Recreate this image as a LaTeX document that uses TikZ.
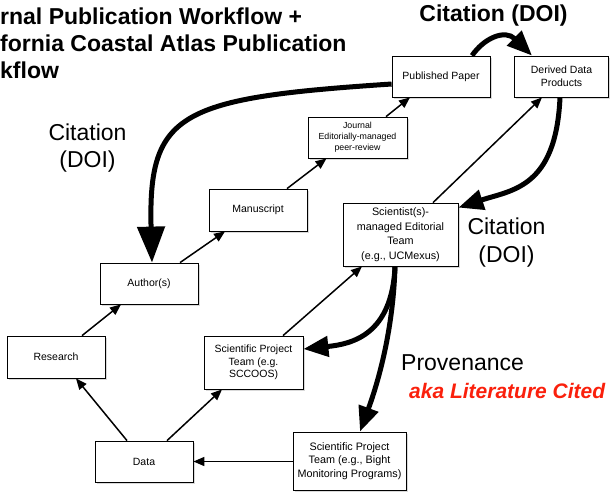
\documentclass[tikz,border=0pt]{standalone}
\usepackage{fontspec}
\setmainfont{Liberation Sans}
\usetikzlibrary{arrows.meta,shadows}
\definecolor{akared}{RGB}{250,32,12}
\begin{document}
\begin{tikzpicture}[x=1pt, y=-1pt,
  box/.style={draw, fill=white, line width=0.8pt, align=center, inner sep=1pt,
    minimum width=98pt, minimum height=41pt, font=\fontsize{10.5}{13}\selectfont,
    drop shadow={shadow xshift=1.5pt, shadow yshift=-1.5pt, opacity=0.3}},
  flow/.style={line width=1.5pt, -{Triangle[length=11pt,width=9pt]}},
  cite/.style={line width=5pt, -{Triangle[length=25pt,width=20pt]}},
  bigtxt/.style={font=\fontsize{23}{27}\selectfont, align=center, inner sep=0pt}]
  \useasboundingbox (0,0) rectangle (612,491);

  \node[bigtxt, align=left, anchor=north west, font=\fontsize{23}{27}\selectfont\bfseries] (title) at (0,8)
    {rnal Publication Workflow +\\fornia Coastal Atlas Publication\\kflow};

  \node[box] (pub) at (441,76.5) {Published Paper};
  \node[box, minimum width=94pt] (derived) at (561.5,76.5) {Derived Data\\Products};
  \node[box, minimum width=99pt, font=\fontsize{8.8}{11}\selectfont] (journal) at (357.5,137.5) {Journal\\Editorially-managed\\peer-review};
  \node[box, minimum height=42pt] (manu) at (258,210) {Manuscript};
  \node[box] (author) at (149,283.5) {Author(s)};
  \node[box, minimum width=115pt, minimum height=63pt, font=\fontsize{10.8}{14.5}\selectfont] (sciteam) at (400.5,234.5) {Scientist(s)-\\managed Editorial\\Team\\(e.g., UCMexus)};
  \node[box, minimum height=42pt] (research) at (56,357) {Research};
  \node[box, minimum width=99pt, minimum height=53pt, font=\fontsize{10.5}{12.5}\selectfont] (sccoos) at (253.5,362.5) {Scientific Project\\Team (e.g.\\SCCOOS)};
  \node[box] (data) at (144,461.5) {Data};
  \node[box, minimum width=113pt, minimum height=58pt, font=\fontsize{10.8}{13.5}\selectfont] (bight) at (349.5,461) {Scientific Project\\Team (e.g., Bight\\Monitoring Programs)};

  \node[bigtxt, font=\fontsize{23}{27}\selectfont\bfseries, anchor=base] (citetop) at (493.5,21) {Citation (DOI)};
  \node[bigtxt] (citeleft) at (87.5,148.5) {Citation\\(DOI)};
  \node[bigtxt, font=\fontsize{23}{28}\selectfont] (citeright) at (506.5,243) {Citation\\(DOI)};
  \node[bigtxt, anchor=base west] (prov) at (401,370) {Provenance};
  \node[inner sep=0pt, anchor=base west, text=akared, font=\fontsize{21}{25}\selectfont\bfseries\itshape] (aka) at (409,398) {aka Literature Cited};

  \draw[flow] ([xshift=26pt]research.north) -- ([xshift=-28pt]author.south);
  \draw[flow] ([xshift=31pt]author.north) -- ([xshift=-33pt]manu.south);
  \draw[flow] ([xshift=29pt]manu.north) -- ([xshift=-31pt]journal.south);
  \draw[flow] ([xshift=28.5pt]journal.north) -- ([xshift=-31pt]pub.south);
  \draw[flow] ([xshift=-17pt]data.north) -- ([xshift=20pt]research.south);
  \draw[flow] ([xshift=23pt]data.north) -- ([xshift=-31.5pt]sccoos.south);
  \draw[flow] (bight.west |- data.east) -- (data.east);
  \draw[flow] ([xshift=29.5pt]sccoos.north) -- ([xshift=-38.5pt]sciteam.south);
  \draw[flow] ([xshift=32.5pt]sciteam.north) -- ([xshift=-19.5pt]derived.south);

  \draw[cite] ([xshift=31pt]pub.north) .. controls (484,38) and (505,29) .. ([xshift=-29.5pt]derived.north);
  \draw[cite, -{Triangle[length=36pt,width=27pt]}] ([yshift=-7.5pt]pub.west) .. controls (180,98) and (148,112) .. ([xshift=3pt]author.north);
  \draw[cite] ([xshift=-1.5pt]derived.south) .. controls (556,188) and (512,190) .. ([yshift=-5pt]sciteam.north east);
  \draw[cite] ([xshift=-5.5pt]sciteam.south) .. controls (392,335) and (352,344) .. ([yshift=13.5pt]sccoos.east);
  \draw[cite] ([xshift=-5.5pt]sciteam.south) .. controls (393,335) and (376,388) .. ([xshift=10.5pt]bight.north);
\end{tikzpicture}
\end{document}
